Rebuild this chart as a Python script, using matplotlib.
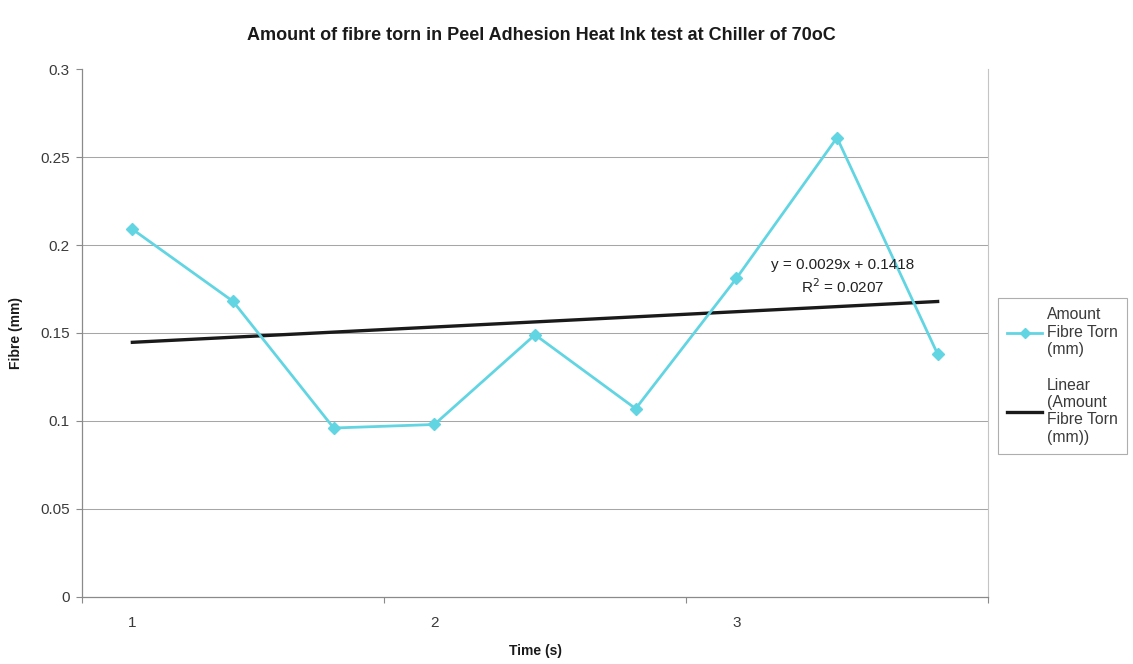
import numpy as np
import matplotlib
matplotlib.use("Agg")
import matplotlib.pyplot as plt
from matplotlib.lines import Line2D

# Measurements (category index 1..9) and time labels on the category axis
positions = [1, 2, 3, 4, 5, 6, 7, 8, 9]
fibre_torn = [0.209, 0.168, 0.096, 0.098, 0.149, 0.107, 0.181, 0.261, 0.138]
time_labels = ["1", "2", "3"]
time_label_pos = [1, 4, 7]
y_ticks = [0, 0.05, 0.1, 0.15, 0.2, 0.25, 0.3]
y_tick_labels = ["0", "0.05", "0.1", "0.15", "0.2", "0.25", "0.3"]

# Linear trendline as reported
trend_slope = 0.0029
trend_intercept = 0.1418
trend_r2 = 0.0207

series_color = "#62d5e3"
font = ["Liberation Sans", "DejaVu Sans"]
plt.rcParams["font.family"] = font

fig = plt.figure(figsize=(11.33, 6.64), dpi=100)
ax = fig.add_axes([0.0724, 0.101, 0.7996, 0.795])

ax.set_xlim(0.5, 9.5)
ax.set_ylim(0, 0.3)

# horizontal gridlines
for v in y_ticks[1:-1]:
    ax.axhline(v, color="#a6a6a6", lw=0.75, zorder=1)

ax.plot(positions, fibre_torn, color=series_color, lw=2.0, marker="D",
        markersize=6.5, markerfacecolor=series_color,
        markeredgecolor=series_color, zorder=3)

trend_x = np.array([positions[0], positions[-1]], dtype=float)
trend_y = trend_slope * trend_x + trend_intercept
ax.plot(trend_x, trend_y, color="#1a1a1a", lw=2.4, zorder=2)

ax.text(8.06, 0.1818,
        f"y = {trend_slope}x + {trend_intercept}\nR$^2$ = {trend_r2}",
        ha="center", va="center", multialignment="center",
        fontsize=11, color="#222222", linespacing=1.35, zorder=4)

# spines
ax.spines["top"].set_visible(False)
ax.spines["right"].set_color("#c4c4c4")
ax.spines["right"].set_linewidth(0.8)
for s in ("left", "bottom"):
    ax.spines[s].set_color("#8a8a8a")
    ax.spines[s].set_linewidth(0.9)

ax.set_yticks(y_ticks)
ax.set_yticklabels(y_tick_labels)
ax.tick_params(axis="y", direction="out", length=4, width=0.8, color="#8a8a8a",
               pad=5, labelsize=11, labelcolor="#3a3a3a")

# tick marks sit on category boundaries, labels on the category centres
ax.set_xticks([0.5, 3.5, 6.5, 9.5])
ax.set_xticklabels([])
ax.set_xticks(time_label_pos, minor=True)
ax.set_xticklabels(time_labels, minor=True)
ax.tick_params(axis="x", which="major", direction="out", length=4, width=0.8,
               color="#8a8a8a")
ax.tick_params(axis="x", which="minor", length=0, pad=14, labelsize=11,
               labelcolor="#3a3a3a")

ax.set_ylabel("Fibre (mm)", fontsize=10, fontweight="bold", labelpad=12,
              color="#1a1a1a")
ax.set_xlabel("Time (s)", fontsize=10, fontweight="bold", labelpad=10,
              color="#1a1a1a")

fig.text(0.478, 0.947, "Amount of fibre torn in Peel Adhesion Heat Ink test at Chiller of 70oC",
         ha="center", va="center", fontsize=13, fontweight="bold",
         color="#1a1a1a")

handles = [
    Line2D([], [], color=series_color, lw=2.0, marker="D", markersize=5,
           markerfacecolor=series_color, markeredgecolor=series_color),
    Line2D([], [], color="#1a1a1a", lw=2.4),
]
labels = ["Amount\nFibre Torn\n(mm)", "Linear\n(Amount\nFibre Torn\n(mm))"]
leg = fig.legend(handles, labels, loc="upper left",
                 bbox_to_anchor=(998 / 1133, 1 - 298 / 664),
                 frameon=True, fancybox=False, fontsize=11.3,
                 handlelength=2.2, handletextpad=0.3, borderpad=0.6,
                 labelspacing=1.3, borderaxespad=0)
leg.get_frame().set_edgecolor("#9a9a9a")
leg.get_frame().set_linewidth(0.8)
for t in leg.get_texts():
    t.set_color("#3a3a3a")

fig.savefig("out.png", dpi=100, facecolor="white")
